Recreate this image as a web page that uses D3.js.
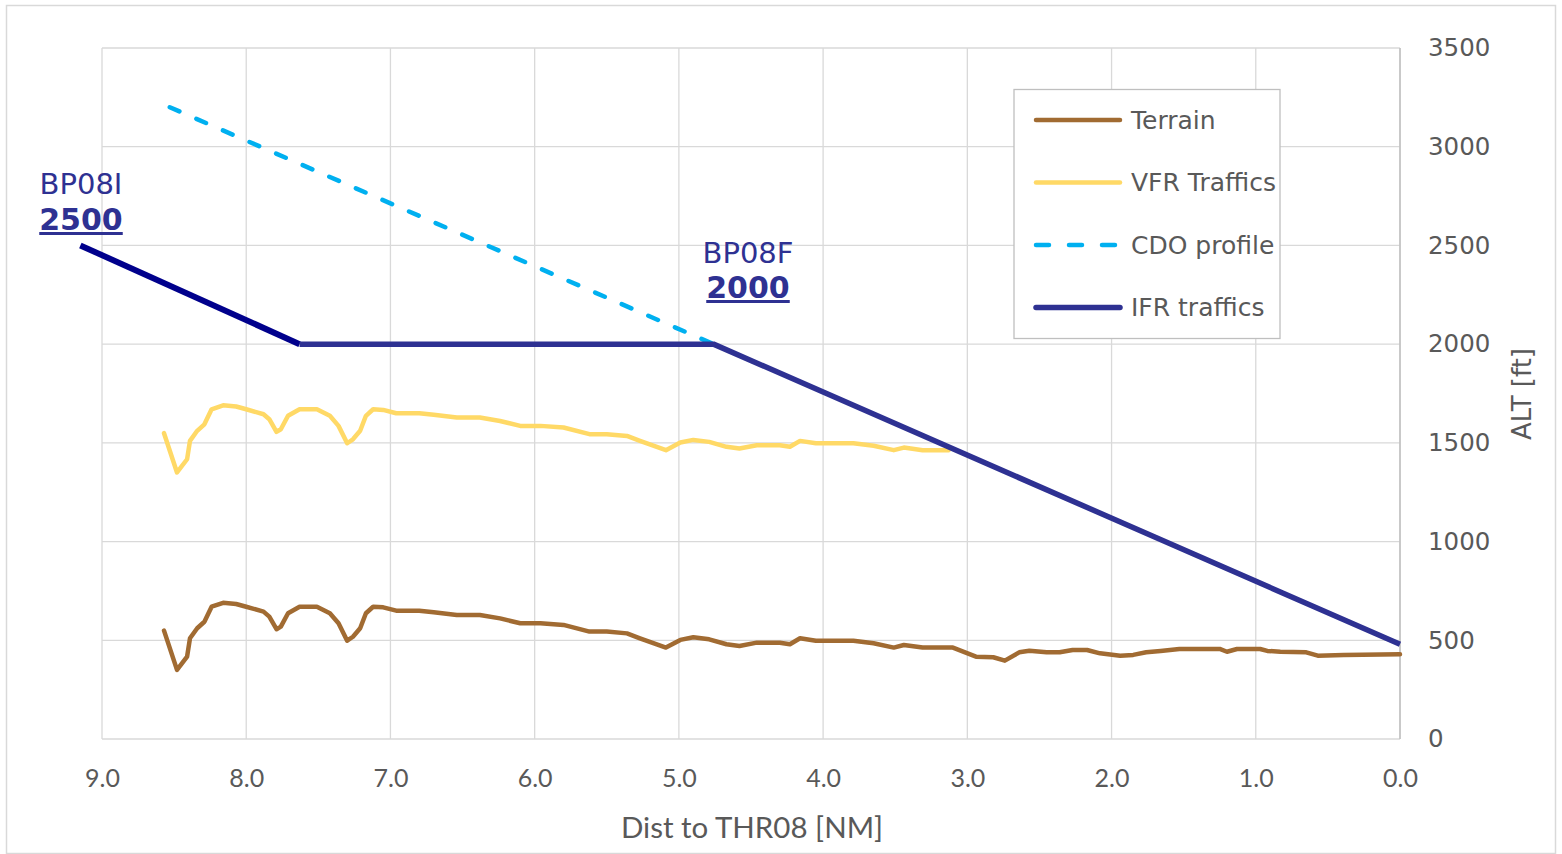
<!DOCTYPE html>
<html><head><meta charset="utf-8">
<script src="https://cdn.jsdelivr.net/npm/d3@7"></script>
<style>
html,body{margin:0;padding:0;background:#fff;}
svg{display:block;}
</style></head>
<body>
<svg id="chart" width="1562" height="854"></svg>
<script>
// ---- data ----
const xTicks = [9,8,7,6,5,4,3,2,1,0];
const yTicks = [0,500,1000,1500,2000,2500,3000,3500];

const terrainDist = [8.57,8.48,8.41,8.39,8.34,8.29,8.24,8.16,8.07,8.00,7.88,7.84,7.79,7.76,7.71,7.63,7.51,7.42,7.36,7.30,7.26,7.21,7.17,7.12,7.05,6.96,6.80,6.70,6.54,6.38,6.24,6.10,5.96,5.80,5.62,5.50,5.36,5.27,5.09,4.99,4.90,4.79,4.67,4.58,4.46,4.30,4.23,4.16,4.05,3.79,3.65,3.51,3.44,3.31,3.10,2.94,2.82,2.74,2.64,2.57,2.45,2.36,2.27,2.17,2.08,1.94,1.85,1.76,1.66,1.53,1.25,1.20,1.13,0.97,0.92,0.83,0.65,0.57,0.39,0.00];
const terrainAlt  = [549,350,417,510,561,594,670,690,684,670,645,620,556,569,637,670,670,637,586,498,518,561,637,670,667,650,650,642,628,628,611,586,586,578,544,544,535,510,463,502,515,505,480,471,488,488,480,510,498,498,485,463,476,463,463,417,414,397,439,447,439,439,451,451,434,422,426,439,446,456,456,442,456,456,446,442,439,422,426,429];

const vfrDist = [8.57,8.48,8.41,8.39,8.34,8.29,8.24,8.16,8.07,8.00,7.88,7.84,7.79,7.76,7.71,7.63,7.51,7.42,7.36,7.30,7.26,7.21,7.17,7.12,7.05,6.96,6.80,6.70,6.54,6.38,6.24,6.10,5.96,5.80,5.62,5.50,5.36,5.27,5.09,4.99,4.90,4.79,4.67,4.58,4.46,4.30,4.23,4.16,4.05,3.79,3.65,3.51,3.44,3.31,3.13];
const vfrAlt  = [1549,1350,1417,1510,1561,1594,1670,1690,1684,1670,1645,1620,1556,1569,1637,1670,1670,1637,1586,1498,1518,1561,1637,1670,1667,1650,1650,1642,1628,1628,1611,1586,1586,1578,1544,1544,1535,1510,1463,1502,1515,1505,1480,1471,1488,1488,1480,1510,1498,1498,1485,1463,1476,1463,1463];

const cdoDist = [8.53, 4.76];
const cdoAlt  = [3200, 2000];

const ifrInitDist = [9.15, 7.63];
const ifrInitAlt  = [2500, 2000];
const ifrDist = [7.63, 4.76, 0.0];
const ifrAlt  = [2000, 2000, 480];

const legendItems = ["Terrain","VFR Traffics","CDO profile","IFR traffics"];

// ---- layout ----
const svg = d3.select("#chart");
const x = d3.scaleLinear().domain([9,0]).range([102,1400]);
const y = d3.scaleLinear().domain([0,3500]).range([739,48]);

// outer frame
svg.append("rect").attr("x",6.5).attr("y",5.5).attr("width",1549).attr("height",848)
  .attr("fill","#fff").attr("stroke","#D9D9D9").attr("stroke-width",1.5);

const grid = svg.append("g");
grid.selectAll(".vg").data(xTicks).join("line")
  .attr("x1",d=>x(d)).attr("x2",d=>x(d)).attr("y1",48).attr("y2",739)
  .attr("stroke","#D9D9D9").attr("stroke-width",1.3);
grid.selectAll(".hg").data(yTicks).join("line")
  .attr("x1",102).attr("x2",1400).attr("y1",d=>y(d)).attr("y2",d=>y(d))
  .attr("stroke","#D9D9D9").attr("stroke-width",1.3);
// right axis line
svg.append("line").attr("x1",1400).attr("x2",1400).attr("y1",48).attr("y2",739)
  .attr("stroke","#BFBFBF").attr("stroke-width",1.5);

// axes
const xAxis = d3.axisBottom(x).tickValues(xTicks).tickFormat(d3.format(".1f")).tickSize(0).tickPadding(30);
const gx = svg.append("g").attr("transform","translate(0,739)").call(xAxis);
gx.select(".domain").remove();
gx.selectAll("text").attr("fill","#595959").style("font-family","Lato, 'Open Sans', sans-serif").style("font-size","25px");

const yAxis = d3.axisRight(y).tickValues(yTicks).tickFormat(d3.format("d")).tickSize(0).tickPadding(28);
const gy = svg.append("g").attr("transform","translate(1400,0)").call(yAxis);
gy.select(".domain").remove();
gy.selectAll("text").attr("fill","#595959").style("font-family","'DejaVu Sans', Verdana, sans-serif").style("font-size","24.5px");

svg.append("text").attr("x",752).attr("y",838).attr("text-anchor","middle")
  .attr("fill","#595959").style("font-family","Lato, 'Open Sans', sans-serif").style("font-size","29.5px")
  .text("Dist to THR08 [NM]");
svg.append("text").attr("transform","translate(1531,394) rotate(-90)").attr("text-anchor","middle")
  .attr("fill","#595959").style("font-family","'DejaVu Sans', Verdana, sans-serif").style("font-size","26px")
  .text("ALT [ft]");

// lines
const line = d3.line().x(d=>x(d[0])).y(d=>y(d[1]));
const zip = (a,b)=>a.map((v,i)=>[v,b[i]]);

svg.append("path").datum(zip(terrainDist,terrainAlt)).attr("d",line)
  .attr("fill","none").attr("stroke","#A16B32").attr("stroke-width",4.5).attr("stroke-linejoin","round").attr("stroke-linecap","round");
svg.append("path").datum(zip(vfrDist,vfrAlt)).attr("d",line)
  .attr("fill","none").attr("stroke","#FFD966").attr("stroke-width",4.5).attr("stroke-linejoin","round").attr("stroke-linecap","round");
svg.append("path").datum(zip(cdoDist,cdoAlt)).attr("d",line)
  .attr("fill","none").attr("stroke","#00B0F0").attr("stroke-width",4.5).attr("stroke-dasharray","10.5,18.5").attr("stroke-linecap","round");
svg.append("path").datum(zip(ifrInitDist,ifrInitAlt)).attr("d",line)
  .attr("fill","none").attr("stroke","#00008C").attr("stroke-width",6);
svg.append("path").datum(zip(ifrDist,ifrAlt)).attr("d",line)
  .attr("fill","none").attr("stroke","#2E3192").attr("stroke-width",5.5).attr("stroke-linejoin","round");

// annotations
const ann = svg.append("g").attr("fill","#2E3192").style("font-family","'DejaVu Sans', Verdana, sans-serif");
ann.append("text").attr("x",81).attr("y",194).attr("text-anchor","middle").style("font-size","29px").text("BP08I");
ann.append("text").attr("x",81).attr("y",230).attr("text-anchor","middle").style("font-size","30px").style("font-weight","bold").style("text-decoration","underline").text("2500");
ann.append("text").attr("x",748).attr("y",263).attr("text-anchor","middle").style("font-size","29px").text("BP08F");
ann.append("text").attr("x",748).attr("y",298).attr("text-anchor","middle").style("font-size","30px").style("font-weight","bold").style("text-decoration","underline").text("2000");

// legend
const lg = svg.append("g");
lg.append("rect").attr("x",1014).attr("y",89.5).attr("width",266).attr("height",249)
  .attr("fill","#fff").attr("stroke","#BFBFBF").attr("stroke-width",1.3);
const lgStyles = [
  {c:"#A16B32",w:4.5,dash:null},
  {c:"#FFD966",w:4.5,dash:null},
  {c:"#00B0F0",w:4.5,dash:"13,20"},
  {c:"#2E3192",w:5.5,dash:null}
];
legendItems.forEach((name,i)=>{
  const yy = 120 + i*62.5;
  lg.append("line").attr("x1",1036).attr("x2",1120).attr("y1",yy).attr("y2",yy)
    .attr("stroke",lgStyles[i].c).attr("stroke-width",lgStyles[i].w).attr("stroke-linecap","round")
    .attr("stroke-dasharray",lgStyles[i].dash);
  lg.append("text").attr("x",1131).attr("y",yy+8.5).attr("fill","#595959")
    .style("font-family","'DejaVu Sans', Verdana, sans-serif").style("font-size","25px").text(name);
});
</script>
</body></html>
